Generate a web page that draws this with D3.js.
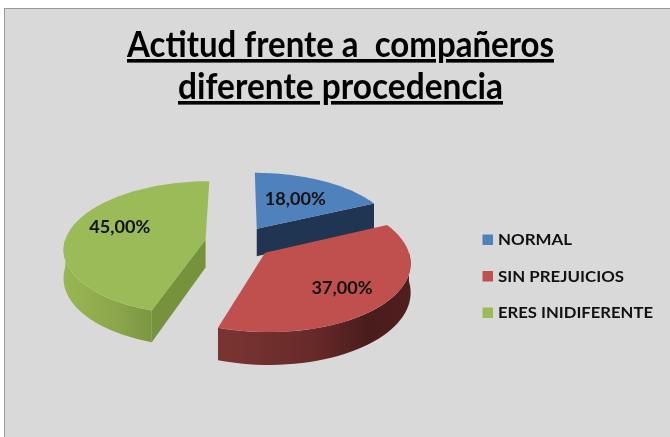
<!DOCTYPE html>
<html><head><meta charset="utf-8">
<script src="https://cdnjs.cloudflare.com/ajax/libs/d3/7.8.5/d3.min.js"></script>
<style>html,body{margin:0;padding:0;background:#fff;overflow:hidden}svg{display:block;filter:blur(.35px)}</style>
</head><body><svg id="c" width="670" height="437"></svg>
<script>
const categories = ["NORMAL", "SIN PREJUICIOS", "ERES INIDIFERENTE"];
const values = [18, 37, 45];
const valueLabels = ["18,00%", "37,00%", "45,00%"];
const titleLines = ["Actitud frente a  compañeros", "diferente procedencia"];
const topColors = ["#4f81bd", "#c0504d", "#9bbb59"];

// layout
const cx = 239, cy = 242, R = 141, explode = 34, tilt = 0.47, persp = 0.0009, depth = 28;
const labelReach = [0.57, 0.66, 0.63];
const labelLift = [1, -3, 6];
const svg = d3.select("#c");
const font = "Lato,'Open Sans',sans-serif";

svg.append("rect").attr("x", 4.5).attr("y", 8.5).attr("width", 700).attr("height", 500)
  .attr("fill", "#d9d9d9").attr("stroke", "#9a9a9a").attr("stroke-width", 1);

const defs = svg.append("defs");
function grad(id, stops) {
  const g = defs.append("linearGradient").attr("id", id);
  stops.forEach(s => g.append("stop").attr("offset", s[0]).attr("stop-color", s[1]));
}
grad("wall1", [[0, "#7a3532"], [0.5, "#672a29"], [0.78, "#4a1c1c"], [1, "#4f1f1e"]]);
grad("wall2", [[0, "#9ab653"], [0.6, "#8ba64b"], [1, "#7b9640"]]);
const wallFill = [null, "url(#wall1)", "url(#wall2)"];
const edgeFill = ["#1f3552", null, "#76923c"];

const arcs = d3.pie().sort(null).startAngle(0).endAngle(2 * Math.PI)(values);

function proj(X, Y, z) {
  const s = 1 / (1 - persp * Y);
  return [cx + X * s, cy + tilt * Y * s + z * s];
}
const apex = a => {
  const m = (a.startAngle + a.endAngle) / 2;
  return [explode * Math.sin(m), -explode * Math.cos(m)];
};
const rim = (a, t, r = R) => {
  const o = apex(a);
  return [o[0] + r * Math.sin(t), o[1] - r * Math.cos(t)];
};
const line = d3.line();
const rangeT = (t0, t1) => d3.range(0, 41).map(i => t0 + (t1 - t0) * i / 40);
const P = (p, z) => proj(p[0], p[1], z);

// back slice first, then green, then red in front
[0, 2, 1].forEach(i => {
  const a = arcs[i], g = svg.append("g");
  const o = apex(a);
  // outer wall: only the part of the rim facing the viewer
  const t0 = Math.max(a.startAngle, Math.PI / 2), t1 = Math.min(a.endAngle, 3 * Math.PI / 2);
  if (wallFill[i] && t1 > t0) {
    const ts = rangeT(t0, t1);
    const ring = ts.map(t => P(rim(a, t), 0)).concat(ts.slice().reverse().map(t => P(rim(a, t), depth)));
    g.append("path").attr("d", line(ring) + "Z").attr("fill", wallFill[i]);
  }
  // cut face
  if (edgeFill[i]) {
    const t = i === 0 ? a.endAngle : a.startAngle;
    const face = [P(o, 0), P(rim(a, t), 0), P(rim(a, t), depth), P(o, depth)];
    g.append("path").attr("d", line(face) + "Z").attr("fill", edgeFill[i]);
  }
  // top face
  const top = [P(o, 0)].concat(rangeT(a.startAngle, a.endAngle).map(t => P(rim(a, t), 0)));
  g.append("path").attr("d", line(top) + "Z").attr("fill", topColors[i]);
});

// value labels
arcs.forEach((a, i) => {
  const m = (a.startAngle + a.endAngle) / 2;
  const p = P(rim(a, m, R * labelReach[i]), 0);
  svg.append("text").attr("x", p[0]).attr("y", p[1] + 6 - labelLift[i]).attr("text-anchor", "middle")
    .attr("font-family", font).attr("font-weight", "bold").attr("font-size", 16.5)
    .attr("textLength", 61).attr("lengthAdjust", "spacingAndGlyphs")
    .attr("fill", "#111").text(valueLabels[i]);
});

// title
const titleWidths = [427, 325];
const titleY = d3.scalePoint().domain(titleLines).range([57, 99]);
titleLines.forEach((t, i) => {
  svg.append("text").attr("x", 340.5).attr("y", titleY(t)).attr("text-anchor", "middle")
    .attr("font-family", font).attr("font-weight", "bold").attr("font-size", 36)
    .attr("textLength", titleWidths[i]).attr("lengthAdjust", "spacingAndGlyphs")
    .attr("text-decoration", "underline").attr("fill", "#000").attr("xml:space", "preserve").text(t);
});

// legend
const legendY = d3.scalePoint().domain(categories).range([239.5, 312.5]);
const legendWidths = [74, 126, 155];
categories.forEach((c, i) => {
  svg.append("rect").attr("x", 482.5).attr("y", legendY(c) - 5).attr("width", 10.5).attr("height", 10.5).attr("fill", topColors[i]);
  svg.append("text").attr("x", 498).attr("y", legendY(c) + 5.5)
    .attr("font-family", font).attr("font-weight", "bold").attr("font-size", 15.5)
    .attr("textLength", legendWidths[i]).attr("lengthAdjust", "spacingAndGlyphs")
    .attr("fill", "#111").text(c);
});
</script></body></html>
